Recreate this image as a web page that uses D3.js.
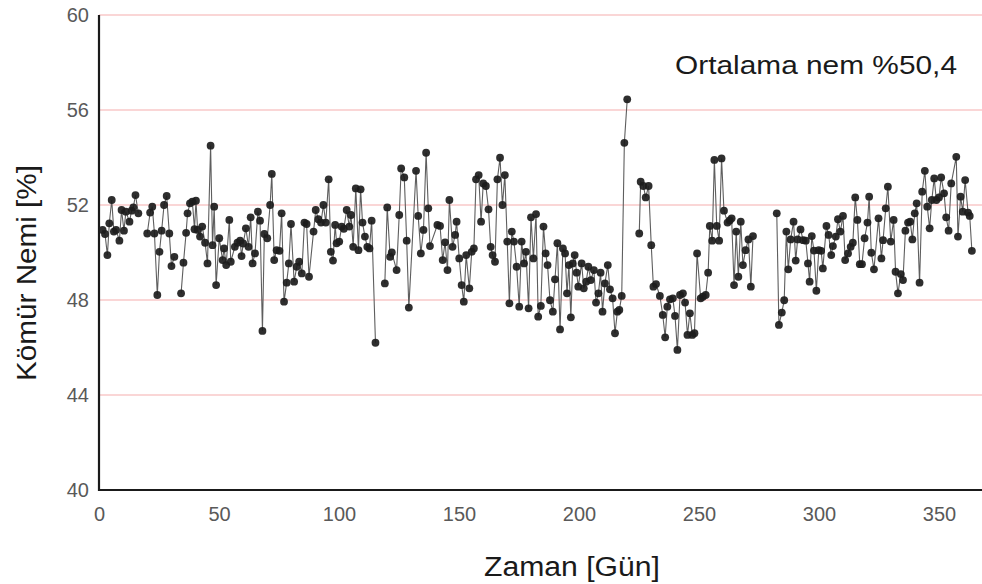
<!DOCTYPE html>
<html>
<head>
<meta charset="utf-8">
<script src="https://cdn.jsdelivr.net/npm/d3@7"></script>
<style>
  html, body { margin: 0; padding: 0; background: #ffffff; }
  svg { display: block; }
  text { font-family: "Liberation Sans", Arial, sans-serif; }
</style>
</head>
<body>
<svg id="chart" width="982" height="584"></svg>
<script>
// ---- data ----
const days = [
  1.5,2.5,3.5,4.3,5.3,6.2,7.1,8.5,9.4,10.4,11.2,12.7,13.6,14.3,15.2,16.4,
  18,
  20.1,21.3,22.2,23.1,24.3,25.2,26.1,27.1,28.2,29.3,30.2,31.4,
  33,
  34.2,35.2,36.3,36.9,37.9,38.9,39.8,40.4,41.1,42.1,43.0,44.2,45.2,46.5,47.3,48.0,48.8,50.1,
  51.5,52.1,53.0,54.3,54.9,56.6,57.7,58.8,59.4,60.1,61.2,62.3,63.2,64.0,65.0,66.2,67.1,68.1,
  68.9,70.1,71.3,72.0,73.0,74.0,75.2,76.1,77.1,78.2,79.1,80.0,81.3,82.4,83.4,84.5,85.6,86.5,
  87.5,89.4,90.3,91.4,92.5,93.5,94.5,95.7,96.6,97.5,98.4,99.0,100.1,101.1,102.0,103.2,104.3,
  105.0,105.9,107.0,108.1,109.0,109.8,110.8,111.8,112.7,113.6,115.2,
  117,
  119.1,120.1,121.3,122.0,124.0,125.1,125.9,127.2,128.2,129.1,132.1,133.0,134.1,135.2,136.3,
  137.2,137.9,141.0,142.1,143.2,144.2,145.2,146.0,147.3,148.4,149.0,150.1,151.1,152.0,153.0,
  154.3,155.3,156.2,157.1,158.2,159.2,160.1,161.2,162.3,163.2,164.0,165.0,166.0,167.1,168.1,
  169.1,170.1,171.0,172.0,172.9,174.0,175.1,176.1,177.1,177.9,179.0,180.0,181.0,182.1,183.0,
  184.1,185.2,186.1,186.9,187.9,189.1,190.0,191.0,192.1,193.3,194.2,195.0,195.8,196.6,197.4,
  198.2,199.0,199.7,201.1,202.0,203.0,203.9,204.9,206.2,207.1,208.1,209.0,209.8,210.8,212.0,
  212.9,214.0,215.0,216.0,216.8,217.8,218.9,220.1,
  222.5,
  225.1,225.7,226.8,227.8,229.0,230.1,231.0,232.1,233.7,234.9,235.9,236.8,237.9,239.1,240.0,
  241.0,242.1,243.3,244.2,245.2,246.2,247.2,248.1,249.2,250.7,251.6,252.8,253.8,254.5,255.5,
  256.4,257.4,258.4,259.4,260.4,261.9,262.8,263.6,264.6,265.5,266.4,267.4,268.3,269.4,270.6,
  271.6,272.5,
  277,
  282.4,283.3,284.5,285.5,286.4,287.2,288.2,289.4,290.3,291.1,292.3,293.4,294.5,295.4,296.1,
  297.0,297.9,298.9,299.9,300.9,301.6,303.1,304.0,305.1,305.8,307.0,307.9,308.9,310.0,310.9,
  312.1,313.2,314.1,315.1,316.0,317.0,317.9,319.0,320.2,320.9,321.8,322.9,324.8,326.0,326.7,
  327.8,328.7,329.9,331.1,331.9,332.9,334.1,335.0,336.0,337.1,338.0,338.9,339.9,340.7,341.9,
  343.0,344.1,345.1,346.1,347.0,348.0,348.9,350.0,350.9,352.1,353.0,354.0,355.1,357.2,357.9,
  359.0,359.9,360.9,362.1,362.8,363.7
];
const moisture = [
  50.95,50.78,49.89,51.23,52.21,50.88,50.95,50.5,51.79,50.92,51.72,51.3,51.76,51.9,52.42,51.65,
  null,
  50.8,51.68,51.93,50.8,48.21,50.03,50.92,52.0,52.38,50.8,49.43,49.82,
  null,
  48.28,49.57,50.83,51.65,52.07,52.14,50.98,52.18,50.95,50.67,51.09,50.41,49.54,54.5,50.31,51.93,48.63,50.6,
  49.68,50.17,49.47,51.37,49.61,50.24,50.41,50.5,49.85,50.38,51.02,50.24,51.48,49.54,49.96,51.72,51.34,46.7,
  50.78,50.6,52.0,53.31,49.68,50.1,50.07,51.65,47.93,48.73,49.54,51.2,48.77,49.4,49.61,49.12,51.26,51.2,
  48.98,50.88,51.79,51.4,51.26,52.0,51.26,53.08,50.03,49.66,51.16,50.39,50.46,51.09,51.0,51.79,51.09,
  51.58,50.24,52.7,50.1,52.66,51.26,50.67,50.24,50.17,51.34,46.2,
  null,
  48.7,51.9,49.82,50.0,49.26,51.58,53.54,53.16,50.5,47.68,53.44,51.54,49.96,50.95,54.2,
  51.86,50.27,51.16,51.12,49.68,50.43,49.26,52.21,50.24,50.74,51.3,49.75,48.63,47.93,49.89,
  48.49,50.03,50.17,53.08,53.26,51.3,52.91,52.8,51.82,50.24,49.89,49.61,53.08,53.99,52.0,
  53.26,50.46,47.86,50.88,50.46,49.4,47.72,50.46,49.54,50.03,47.65,51.48,49.75,51.62,47.3,
  47.75,51.09,49.96,49.47,47.99,47.51,48.87,50.39,46.76,50.17,49.96,48.28,49.47,47.27,49.54,
  49.89,49.15,48.56,49.54,48.49,48.77,49.4,48.84,49.26,47.89,48.28,49.15,47.51,48.7,49.47,
  48.45,48.07,46.6,47.51,47.58,48.17,54.62,56.45,
  null,
  50.8,52.98,52.8,52.32,52.8,50.31,48.56,48.67,48.17,47.37,46.43,47.72,48.03,48.07,47.33,
  45.9,48.21,48.28,47.89,46.53,47.44,46.53,46.6,49.96,48.07,48.14,48.21,49.15,51.12,50.5,
  53.9,51.12,50.5,53.96,51.76,51.26,51.35,51.44,48.63,50.88,48.98,51.3,49.47,50.1,50.55,
  48.56,50.69,
  null,
  51.65,46.95,47.47,47.99,50.88,49.29,50.55,51.3,49.66,50.55,50.97,50.52,50.5,49.54,48.77,
  50.69,50.08,48.39,50.1,50.07,49.33,51.12,50.74,49.89,50.27,50.67,51.4,50.88,51.54,49.68,
  49.96,50.24,50.41,52.32,51.37,49.51,49.51,50.6,51.26,52.35,49.99,49.29,51.44,49.75,50.52,
  51.86,52.77,50.46,51.37,49.19,48.28,49.09,48.84,50.92,51.26,51.3,50.55,51.65,52.07,48.73,
  52.56,53.44,51.93,51.02,52.21,53.12,52.21,52.32,53.16,52.49,51.48,50.92,52.91,54.03,50.67,
  52.35,51.72,53.05,51.68,51.54,50.07
];
const xTicks = [0, 50, 100, 150, 200, 250, 300, 350];
const yTicks = [40, 44, 48, 52, 56, 60];
const xTitle = "Zaman [Gün]";
const yTitle = "Kömür Nemi [%]";
const note = "Ortalama nem %50,4";

// ---- layout ----
const W = 982, H = 584;
const mLeft = 99, mTop = 15, mBottom = 490;
const x = d3.scaleLinear().domain([0, 370]).range([mLeft, mLeft + 370 * 2.4]);
const y = d3.scaleLinear().domain([40, 60]).range([mBottom, mTop]);

const svg = d3.select("#chart");
svg.append("rect").attr("width", W).attr("height", H).attr("fill", "#fff");

// gridlines
svg.append("g").selectAll("line")
  .data(yTicks.filter(t => t > 40))
  .join("line")
  .attr("x1", mLeft).attr("x2", W)
  .attr("y1", d => y(d)).attr("y2", d => y(d))
  .attr("stroke", "#f8c8c8").attr("stroke-width", 1.4);

// y axis (labels only)
const yAxis = d3.axisLeft(y).tickValues(yTicks).tickSize(0).tickPadding(10).tickFormat(d3.format("d"));
const gy = svg.append("g").attr("transform", `translate(${mLeft},0)`).call(yAxis);
gy.select(".domain").remove();
gy.selectAll("text").attr("font-size", 20).attr("fill", "#595959")
  .attr("font-family", '"Liberation Sans", Arial, sans-serif');

// x axis (labels only)
const xAxis = d3.axisBottom(x).tickValues(xTicks).tickSize(0).tickPadding(17).tickFormat(d3.format("d"));
const gx = svg.append("g").attr("transform", `translate(0,${mBottom})`).call(xAxis);
gx.select(".domain").remove();
gx.selectAll("text").attr("font-size", 20).attr("fill", "#595959")
  .attr("font-family", '"Liberation Sans", Arial, sans-serif');

// axis lines
svg.append("line").attr("x1", mLeft).attr("x2", mLeft).attr("y1", mTop).attr("y2", mBottom + 1)
  .attr("stroke", "#1a1a1a").attr("stroke-width", 2.2);
svg.append("line").attr("x1", mLeft - 1).attr("x2", W).attr("y1", mBottom).attr("y2", mBottom)
  .attr("stroke", "#1a1a1a").attr("stroke-width", 2.2);

// series
const pts = days.map((d, i) => ({ d, v: moisture[i] }));
const line = d3.line().defined(p => p.v != null).x(p => x(p.d)).y(p => y(p.v));
svg.append("path").datum(pts).attr("d", line)
  .attr("fill", "none").attr("stroke", "#5e5e5e").attr("stroke-width", 1.1);
svg.append("g").selectAll("circle")
  .data(pts.filter(p => p.v != null))
  .join("circle")
  .attr("cx", p => x(p.d)).attr("cy", p => y(p.v)).attr("r", 3.9)
  .attr("fill", "#1c1c1c").attr("fill-opacity", 0.92);

// titles
svg.append("text").attr("x", 572).attr("y", 576).attr("text-anchor", "middle")
  .attr("font-size", 27).attr("fill", "#1a1a1a")
  .attr("textLength", 176).attr("lengthAdjust", "spacingAndGlyphs").text(xTitle);
svg.append("text").attr("transform", "translate(36,273) rotate(-90)").attr("text-anchor", "middle")
  .attr("font-size", 27).attr("fill", "#1a1a1a")
  .attr("textLength", 216).attr("lengthAdjust", "spacingAndGlyphs").text(yTitle);
svg.append("text").attr("x", 675).attr("y", 74)
  .attr("font-size", 26).attr("fill", "#1a1a1a")
  .attr("textLength", 282).attr("lengthAdjust", "spacingAndGlyphs").text(note);
</script>
</body>
</html>
